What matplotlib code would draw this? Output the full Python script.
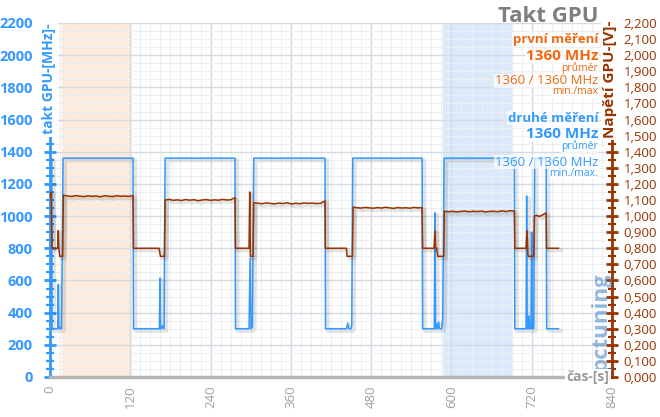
import numpy as np
import matplotlib
matplotlib.use('Agg')
import matplotlib.pyplot as plt
import matplotlib.patheffects as pe
from matplotlib.ticker import MultipleLocator, FuncFormatter

plt.rcParams['font.family'] = ['Open Sans', 'DejaVu Sans']

# clock [MHz] breakpoints (time in s)
clock_t = [1, 2.5, 3, 11.5, 12.4, 13.3, 15, 16, 17.2, 19.5,
           124, 124.8, 163.5, 164.4, 165.2, 167, 168, 170.5, 172,
           276.5, 277.2, 297.5, 299, 300.5, 302.5, 304.5,
           411, 411.8, 443, 445, 446.5, 450, 451, 452.5,
           556.2, 557, 574.3, 575.3, 576.3, 578, 579, 581, 582, 585.5, 587, 589,
           694, 694.7, 711.5, 712.4, 713.3, 715, 716, 717, 719, 720, 721, 723, 724.5,
           741.5, 742.3, 760]
clock_mhz = [1360, 1360, 300, 300, 575, 300, 300, 310, 300, 1360,
             1360, 300, 300, 615, 300, 300, 320, 300, 1360,
             1360, 300, 300, 740, 300, 310, 1360,
             1360, 300, 300, 335, 300, 300, 320, 1360,
             1360, 300, 300, 1020, 300, 330, 300, 340, 300, 300, 360, 1360,
             1360, 300, 300, 1125, 300, 300, 380, 300, 300, 900, 300, 300, 1360,
             1360, 300, 300]

# voltage [V] transitions between plateaus (time, value)
volt_edges = [
    ([1, 1.8, 3, 11.5, 12.4, 13.3, 14.5, 19], [1.12, 1.15, 0.80, 0.80, 0.91, 0.80, 0.75, 0.75]),
    ([124.8, 163, 165, 171], [0.80, 0.80, 0.75, 0.75]),
    ([277.2, 297.5, 298.5, 299.5, 303.5], [0.80, 0.80, 1.15, 0.75, 0.75]),
    ([411.5, 443, 444, 452], [0.80, 0.80, 0.75, 0.75]),
    ([556.8, 574, 575.3, 576.5, 578, 579.5, 588.5], [0.80, 0.80, 0.91, 0.80, 0.80, 0.75, 0.75]),
    ([694.8, 711.5, 713, 714.5, 723], [0.80, 0.80, 0.91, 0.75, 0.75]),
    ([742.2, 760], [0.80, 0.80]),
]
# voltage plateaus: start, end, readings along the plateau
volt_plateaus = [
    (20, 124, [1.13, 1.125, 1.122, 1.127, 1.124, 1.121, 1.126, 1.123, 1.125, 1.12,
               1.126, 1.124, 1.121, 1.127, 1.123, 1.125, 1.122, 1.128]),
    (172, 276.5, [1.10, 1.104, 1.098, 1.101, 1.097, 1.103, 1.099, 1.102, 1.096, 1.1,
                  1.103, 1.098, 1.101, 1.099, 1.104, 1.1, 1.102, 1.115]),
    (304.5, 411, [1.083, 1.08, 1.077, 1.082, 1.079, 1.076, 1.081, 1.078, 1.083, 1.075,
                  1.08, 1.077, 1.082, 1.079, 1.081, 1.078, 1.08, 1.095]),
    (453, 556, [1.055, 1.052, 1.05, 1.054, 1.051, 1.049, 1.053, 1.05, 1.055, 1.051,
                1.048, 1.053, 1.05, 1.052, 1.049, 1.054, 1.051, 1.053]),
    (589.3, 694, [1.03, 1.027, 1.03, 1.026, 1.029, 1.031, 1.027, 1.03, 1.028, 1.031,
                  1.026, 1.029, 1.03, 1.027, 1.033, 1.028, 1.034, 1.031]),
    (724, 741.5, [1.0, 1.005, 0.998, 1.003, 1.012, 1.02]),
]

bands = [(17.5, 123, '#fdebdb'), (587.5, 692.5, '#dbeafb')]

BLUE = '#3399ff'
BROWN = '#993300'
ORANGE = '#ef6a10'


def volt_series():
    t, v = [], []
    for i, (et, ev) in enumerate(volt_edges):
        t += et
        v += ev
        if i < len(volt_plateaus):
            s, e, vals = volt_plateaus[i]
            t += list(np.linspace(s, e, len(vals)))
            v += vals
    return t, v


fig = plt.figure(figsize=(6.6, 4.17), dpi=100)
ax = fig.add_axes([50 / 660, 40 / 417, 562 / 660, 354 / 417])
ax2 = ax.twinx()

for a, b, c in bands:
    ax.axvspan(a, b, color=c, zorder=0, lw=0)

ax.set_xlim(0, 840)
ax.set_ylim(0, 2200)
ax2.set_ylim(0, 2.2)

ax.xaxis.set_major_locator(MultipleLocator(120))
ax.xaxis.set_minor_locator(MultipleLocator(15))
ax.yaxis.set_major_locator(MultipleLocator(200))
ax.yaxis.set_minor_locator(MultipleLocator(50))
ax2.yaxis.set_major_locator(MultipleLocator(0.1))
ax2.yaxis.set_minor_locator(MultipleLocator(0.05))

ax.grid(which='major', color='#d5dae2', lw=1)
ax.grid(which='minor', color='#eceef2', lw=0.8)
ax.set_axisbelow(True)

shadow = [pe.SimpleLineShadow(offset=(1.5, -1.5), shadow_color='k', alpha=0.1, linewidth=3), pe.Normal()]
ax.plot(clock_t, clock_mhz, color=BLUE, lw=1.1, zorder=3, path_effects=shadow)
vt, vv = volt_series()
ax2.plot(vt, vv, color=BROWN, lw=1.1, zorder=3, path_effects=shadow)

ax.spines['top'].set_visible(False)
ax2.spines['top'].set_visible(False)
ax.spines['right'].set_visible(False)
ax2.spines['left'].set_visible(False)
ax2.spines['bottom'].set_visible(False)
ax.spines['left'].set_color(BLUE)
ax.spines['left'].set_linewidth(2)
ax.spines['bottom'].set_color('#b5b5b5')
ax.spines['bottom'].set_linewidth(2.5)
ax2.spines['right'].set_color(BROWN)
ax2.spines['right'].set_linewidth(2)

ax.tick_params(axis='y', which='major', direction='inout', length=9, width=2, color=BLUE,
               labelcolor=BLUE, labelsize=10.5, pad=8)
ax.tick_params(axis='y', which='minor', direction='inout', length=6, width=1.5, color=BLUE)
ax.tick_params(axis='x', which='both', length=0, labelcolor='#a0a0a0', labelsize=9.5, labelrotation=90, pad=6)
for lb in ax.get_yticklabels():
    lb.set_fontweight('bold')
ax2.tick_params(axis='y', which='major', direction='inout', length=9, width=2, color=BROWN,
                labelcolor=BROWN, labelsize=9.5, pad=4)
ax2.tick_params(axis='y', which='minor', direction='inout', length=6, width=1.5, color=BROWN)
ax2.yaxis.set_major_formatter(FuncFormatter(lambda v, p: f'{v:.3f}'.replace('.', ',')))


def px(x, y):
    return x / 660, 1 - y / 417


white = dict(facecolor='white', edgecolor='none', pad=1.5)
fig.text(*px(49, 24), 'takt GPU-[MHz]-', rotation=90, ha='center', va='top',
         color=BLUE, fontsize=10, fontweight='bold', bbox=white)
fig.text(*px(610, 20), 'Napětí GPU-[V]-', rotation=90, ha='center', va='top',
         color=BROWN, fontsize=11, fontweight='bold', bbox=white)

fig.text(*px(601, 322), 'pctuning', rotation=90, ha='center', va='center',
         color='#3f7fc8', fontsize=16, fontweight='bold', alpha=0.55)

bb = dict(facecolor='white', edgecolor='none', alpha=0.7, pad=0.5)
R = 598
fig.text(*px(R, 17), 'Takt GPU', ha='right', va='center', color='#7f7f7f', fontsize=16, fontweight='bold')
fig.text(*px(R, 39), 'první měření', ha='right', va='center', color=ORANGE, fontsize=9.5, fontweight='bold', bbox=bb)
fig.text(*px(R, 56), '1360 MHz', ha='right', va='center', color=ORANGE, fontsize=11, fontweight='bold', bbox=bb)
fig.text(*px(R, 68), 'průměr', ha='right', va='center', color=ORANGE, fontsize=7.5, bbox=bb)
fig.text(*px(R, 81), '1360 / 1360 MHz', ha='right', va='center', color=ORANGE, fontsize=9.5, bbox=bb)
fig.text(*px(R, 92), 'min./max', ha='right', va='center', color=ORANGE, fontsize=7.5, bbox=bb)
fig.text(*px(R, 118), 'druhé měření', ha='right', va='center', color=BLUE, fontsize=9.5, fontweight='bold', bbox=bb)
fig.text(*px(R, 134), '1360 MHz', ha='right', va='center', color=BLUE, fontsize=11, fontweight='bold', bbox=bb)
fig.text(*px(R, 146), 'průměr', ha='right', va='center', color=BLUE, fontsize=7.5, bbox=bb)
fig.text(*px(R, 162), '1360 / 1360 MHz', ha='right', va='center', color=BLUE, fontsize=9.5, bbox=bb)
fig.text(*px(R, 173), 'min./max.', ha='right', va='center', color=BLUE, fontsize=7.5, bbox=bb)

fig.text(*px(588, 377), 'čas-[s]', ha='center', va='center', color='#9a9a9a', fontsize=10,
         fontweight='bold', bbox=dict(facecolor='white', edgecolor='none', pad=1))

fig.savefig('out.png', dpi=100)
